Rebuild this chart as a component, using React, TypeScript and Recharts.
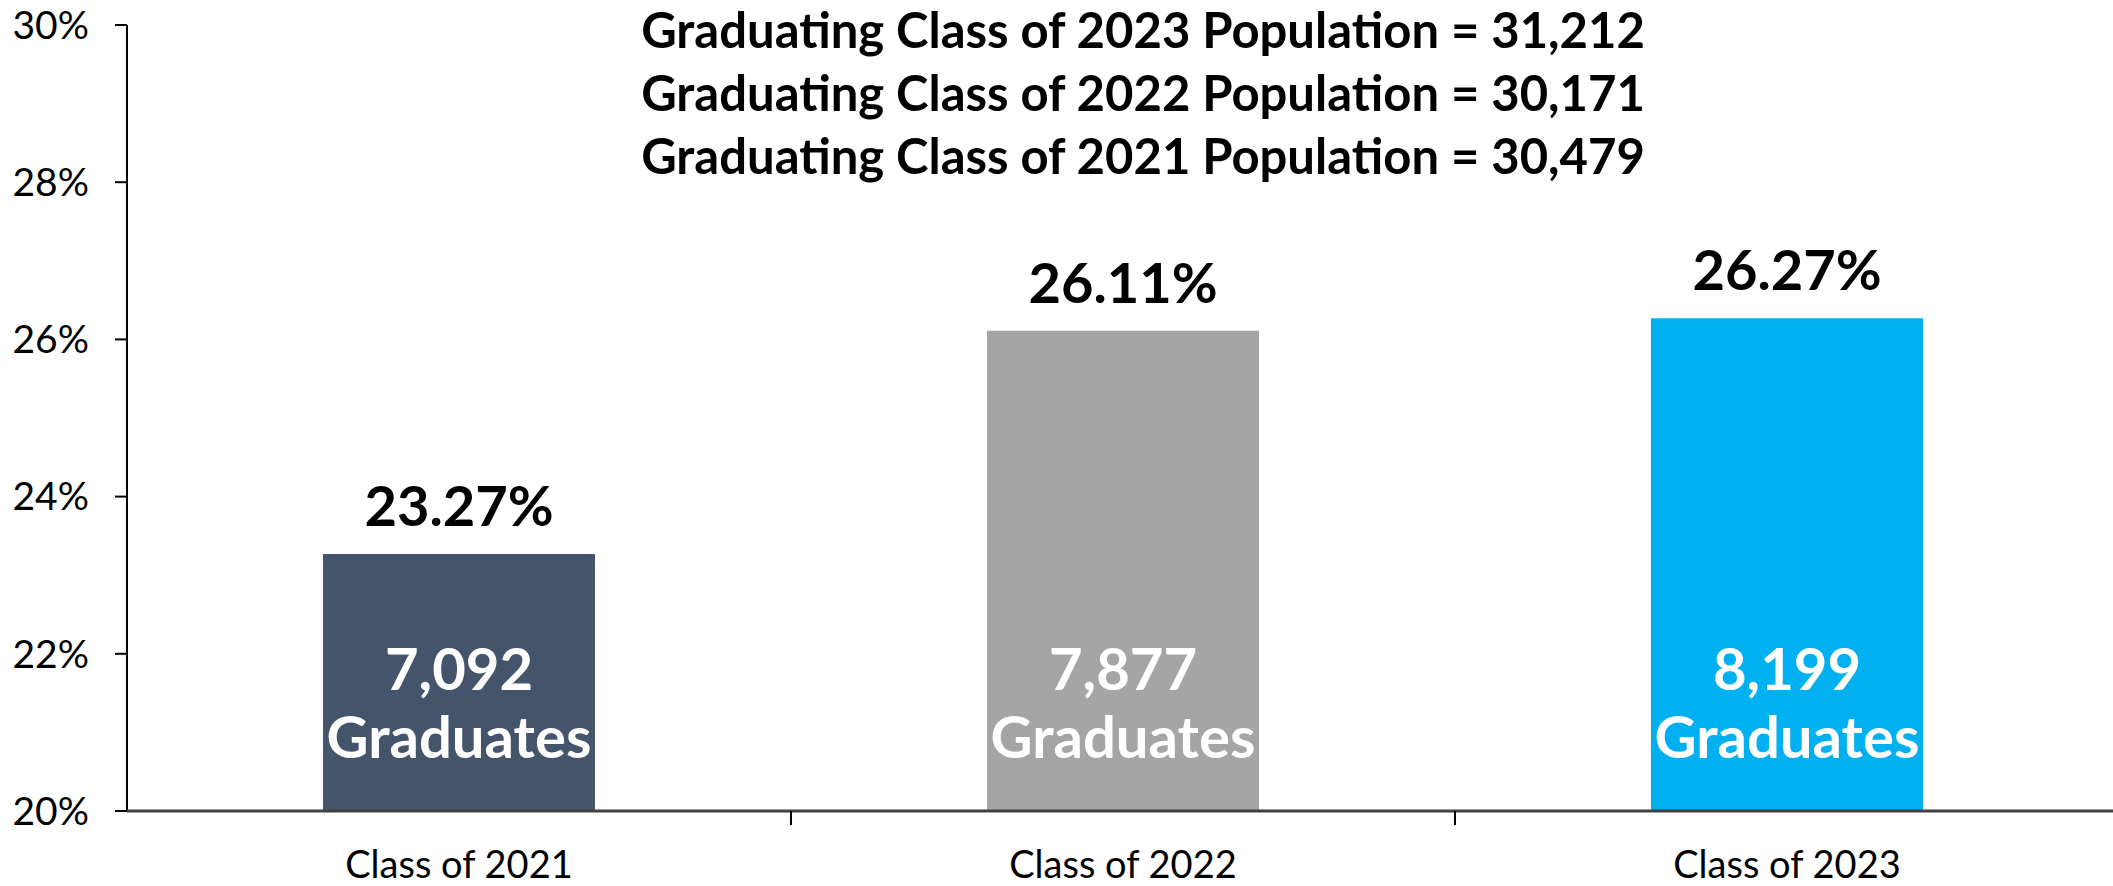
import React from "react";
import { BarChart, Bar, XAxis, YAxis, Cell, LabelList } from "recharts";

const categories = ["Class of 2021", "Class of 2022", "Class of 2023"];
const gradRates = [23.27, 26.11, 26.27];
const graduates = ["7,092", "7,877", "8,199"];
const barColors = ["#44546A", "#A5A5A5", "#00B0F0"];
const yTicks = [20, 22, 24, 26, 28, 30];
const populationLines = [
  "Graduating Class of 2023 Population = 31,212",
  "Graduating Class of 2022 Population = 30,171",
  "Graduating Class of 2021 Population = 30,479",
];

const data = categories.map((name, i) => ({
  name,
  rate: gradRates[i],
  grads: graduates[i],
}));

const FONT = "Lato, 'Open Sans', sans-serif";

// category labels, plus the small tick marks sitting on the band boundaries
function CategoryTick(props: any) {
  const { x, y, payload, index } = props;
  const half = payload && payload.offset ? payload.offset : 332;
  return (
    <g>
      <text
        x={x}
        y={y + 67}
        textAnchor="middle"
        fontSize={38}
        fontFamily={FONT}
        fill="#000"
      >
        {payload.value}
      </text>
      {index < categories.length - 1 && (
        <line
          x1={x + half}
          x2={x + half}
          y1={y}
          y2={y + 14}
          stroke="#000"
          strokeWidth={2}
        />
      )}
    </g>
  );
}

function RateLabel(props: any) {
  const { x, y, width, value } = props;
  return (
    <text
      x={x + width / 2}
      y={y - 28}
      textAnchor="middle"
      fontSize={56}
      fontWeight="bold"
      fontFamily={FONT}
      fill="#000"
    >
      {`${Number(value).toFixed(2)}%`}
    </text>
  );
}

function GradsLabel(props: any) {
  const { x, y, width, height, value } = props;
  const cx = x + width / 2;
  const bottom = y + height;
  return (
    <g fill="#fff" fontFamily={FONT} fontWeight="bold" fontSize={58}>
      <text x={cx} y={bottom - 121} textAnchor="middle">
        {value}
      </text>
      <text x={cx} y={bottom - 53} textAnchor="middle">
        Graduates
      </text>
    </g>
  );
}

export default function App() {
  return (
    <div
      style={{
        position: "absolute",
        left: 0,
        top: 0,
        width: 2113,
        height: 886,
        background: "#fff",
        fontFamily: FONT,
        overflow: "hidden",
      }}
    >
      <BarChart
        width={2113}
        height={886}
        data={data}
        margin={{ top: 25, right: -6, bottom: 0, left: 0 }}
      >
        <YAxis
          type="number"
          domain={[20, 30]}
          ticks={yTicks}
          tickFormatter={(v: number) => `${v}%`}
          width={127}
          axisLine={{ stroke: "#000", strokeWidth: 2 }}
          tickLine={{ stroke: "#000", strokeWidth: 2 }}
          tickSize={12}
          tickMargin={26}
          tick={{ fontSize: 39, fill: "#000", fontFamily: FONT }}
          allowDataOverflow
        />
        <XAxis
          dataKey="name"
          height={75}
          axisLine={{ stroke: "#404040", strokeWidth: 3 }}
          tickLine={false}
          tickSize={0}
          tickMargin={0}
          tick={<CategoryTick />}
          interval={0}
        />
        <Bar dataKey="rate" barSize={272} isAnimationActive={false}>
          {data.map((d, i) => (
            <Cell key={d.name} fill={barColors[i]} />
          ))}
          <LabelList dataKey="rate" content={<RateLabel />} />
          <LabelList dataKey="grads" content={<GradsLabel />} />
        </Bar>
      </BarChart>
      {populationLines.map((line, i) => (
        <div
          key={line}
          style={{
            position: "absolute",
            left: 0,
            width: 2113,
            paddingLeft: 173,
            boxSizing: "border-box",
            textAlign: "center",
            top: 4 + i * 63,
            height: 50,
            lineHeight: "50px",
            fontSize: 49,
            fontWeight: "bold",
            color: "#000",
            whiteSpace: "nowrap",
          }}
        >
          {line}
        </div>
      ))}
    </div>
  );
}
